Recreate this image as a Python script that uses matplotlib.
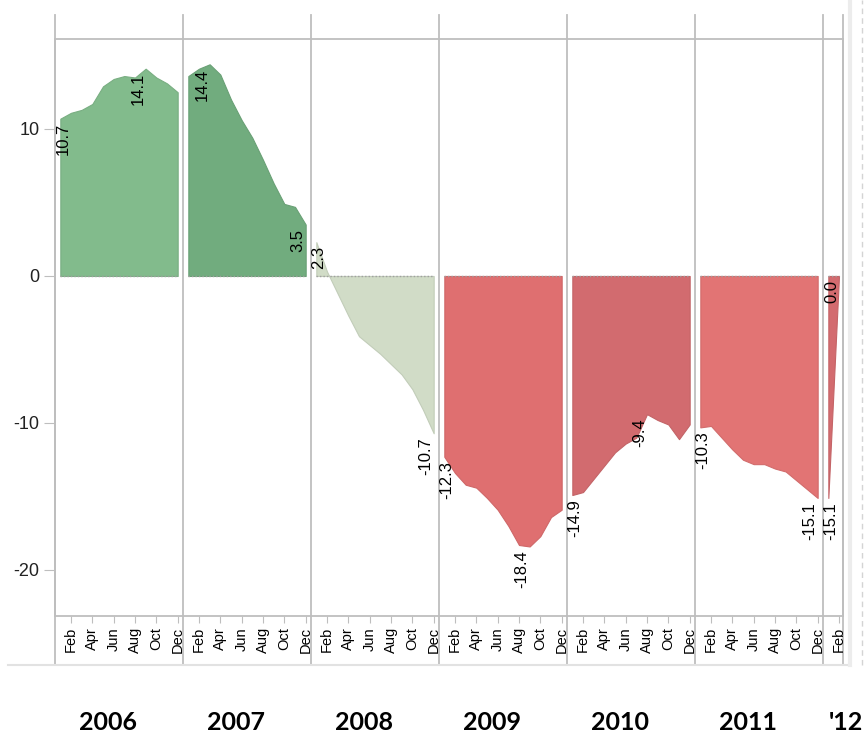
import matplotlib
matplotlib.use("Agg")
import matplotlib.pyplot as plt
import matplotlib.transforms as mtransforms
from matplotlib.lines import Line2D
import numpy as np

# monthly values, one list per year
years = ["2006", "2007", "2008", "2009", "2010", "2011", "'12"]
month_names = ["Jan", "Feb", "Mar", "Apr", "May", "Jun",
               "Jul", "Aug", "Sep", "Oct", "Nov", "Dec"]
v2006 = [10.7, 11.1, 11.3, 11.7, 12.9, 13.4, 13.6, 13.5, 14.1, 13.5, 13.1, 12.5]
v2007 = [13.6, 14.1, 14.4, 13.7, 12.0, 10.6, 9.4, 7.9, 6.3, 4.9, 4.7, 3.5]
v2008 = [2.3, 0.3, -1.2, -2.7, -4.1, -4.7, -5.3, -6.0, -6.7, -7.7, -9.1, -10.7]
v2009 = [-12.3, -13.4, -14.2, -14.4, -15.1, -15.9, -17.0, -18.3, -18.4, -17.7, -16.4, -15.9]
v2010 = [-14.9, -14.7, -13.8, -12.9, -12.0, -11.4, -11.0, -9.4, -9.8, -10.1, -11.1, -10.1]
v2011 = [-10.3, -10.2, -11.0, -11.8, -12.5, -12.8, -12.8, -13.1, -13.3, -13.9, -14.5, -15.1]
v2012 = [-15.1, 0.0]
series = [v2006, v2007, v2008, v2009, v2010, v2011, v2012]

# which months get a value label
label_idx = [[0, 8], [2, 11], [0, 11], [0, 8], [0, 7], [0, 11], [0, 1]]

colors = ["#82bb8c", "#71ac7e", "#d1dcc7", "#df6f70", "#d26b6f", "#e27474", "#d36b6f"]

plt.rcParams["font.family"] = ["Liberation Sans", "DejaVu Sans"]
plt.rcParams["axes.unicode_minus"] = False

W, H = 864, 737
fig = plt.figure(figsize=(W / 100, H / 100), dpi=100)
ax = fig.add_axes([55 / W, 1 - 616 / H, (843 - 55) / W, (616 - 39) / H])
grid = "#bebebe"

for i, vals in enumerate(series):
    x = 12 * i + np.arange(len(vals))
    y = np.array(vals)
    edge = tuple(c * 0.93 for c in matplotlib.colors.to_rgb(colors[i]))
    ax.fill_between(x, 0, y, facecolor=colors[i], edgecolor=edge, lw=0.8, zorder=2)
    ax.plot([x[0], x[-1]], [0, 0], ls=(0, (1, 1.5)), color="#a0a0a0", lw=1, zorder=3)
    for k in label_idx[i]:
        ha = "center" if k == 0 else "right"
        dx = 2 if k == 0 else 0
        ax.annotate(f"{y[k]:.1f}", (x[k], y[k]), xytext=(dx, -3),
                    textcoords="offset points", rotation=90, ha=ha, va="top",
                    fontsize=12, color="black", zorder=4)

xmax = 12 * (len(series) - 1) - 0.5 + 1.875
ax.set_xlim(-0.5, xmax)
ax.set_ylim(-23.13, 16.12)

# year separators, running past the plot area
for i in range(len(series)):
    ax.axvline(12 * i - 0.5, ymin=-0.085, ymax=1.042, clip_on=False, color=grid, lw=1.3, zorder=1)
ax.axvline(xmax, ymin=-0.085, ymax=1.042, clip_on=False, color=grid, lw=1.3, zorder=1)

ticks, tlabels = [], []
for i, vals in enumerate(series):
    for m in range(1, len(vals), 2):
        ticks.append(12 * i + m)
        tlabels.append(month_names[m])
ax.set_xticks(ticks)
ax.set_xticklabels(tlabels, rotation=90, fontsize=10.5)
ax.set_yticks([-20, -10, 0, 10])
ax.set_yticklabels(["-20", "-10", "0", "10"], fontsize=13, color="#222222")
ax.tick_params(axis="x", length=5, color=grid, pad=3)
ax.tick_params(axis="y", length=8, color=grid, pad=3)
for s in ax.spines.values():
    s.set_color(grid)
    s.set_linewidth(1.3)

# frame bits outside the plot
fig.add_artist(Line2D([8 / W, 850 / W], [1 - 665 / H] * 2, transform=fig.transFigure,
                      color="#e2e2e2", lw=1.5))
fig.add_artist(Line2D([850 / W] * 2, [1 - 665 / H, 1], transform=fig.transFigure,
                      color="#ececec", lw=3))
fig.add_artist(Line2D([862 / W] * 2, [1 - 665 / H, 1], transform=fig.transFigure,
                      color="#d4d4d4", lw=1, ls=(0, (4, 3))))

tr = mtransforms.blended_transform_factory(ax.transData, fig.transFigure)
for i, yr in enumerate(years):
    xc = 12 * i + 4.5 if i < len(years) - 1 else 12 * i + 1.6
    ax.text(xc, 1 - 722 / H, yr, transform=tr, ha="center", va="center",
            fontsize=18, fontweight="bold", family="Lato", color="black")

fig.savefig("out.png", dpi=100)
